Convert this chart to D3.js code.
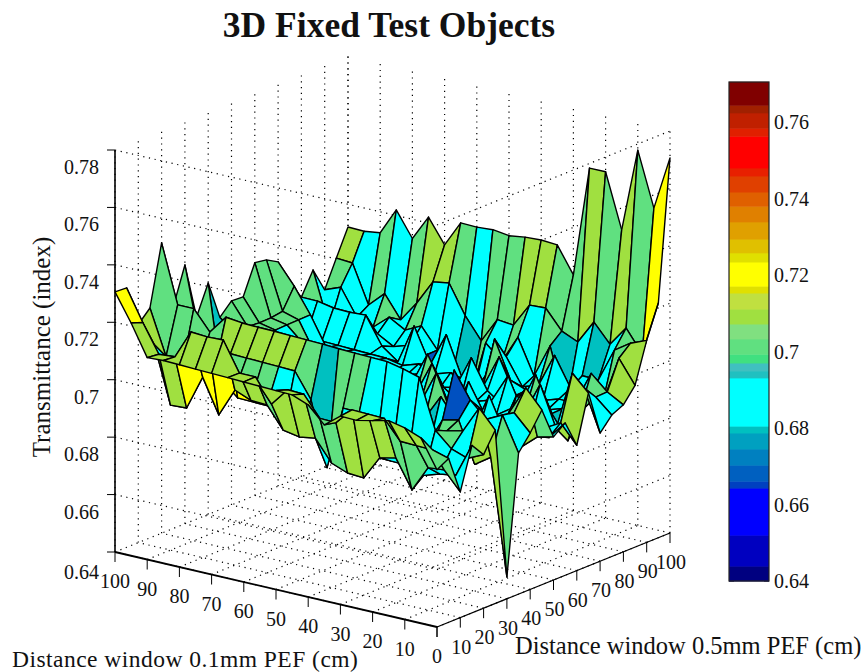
<!DOCTYPE html>
<html><head><meta charset="utf-8">
<script src="https://cdnjs.cloudflare.com/ajax/libs/d3/7.8.5/d3.min.js"></script>
<style>html,body{margin:0;background:#fff}svg{display:block}text{font-family:"Liberation Serif",serif;fill:#111}</style>
</head><body><svg id="c" width="866" height="672"></svg>
<script>
const title = "3D Fixed Test Objects";
const xLabel = "Distance window 0.1mm PEF (cm)";
const yLabel = "Distance window 0.5mm PEF (cm)";
const zLabel = "Transmittance (index)";
const axisTicks = [0,10,20,30,40,50,60,70,80,90,100];
const zTicks = [0.64,0.66,0.68,0.7,0.72,0.74,0.76,0.78];
const cbTicks = [0.64,0.66,0.68,0.7,0.72,0.74,0.76];
const gridI = d3.range(0,101,5);
const gridJ = d3.range(0,101,5);
// colour bands of the colour bar, low to high
const bandTops = [.6439,.6520,.6643,.6661,.6703,.6745,.6787,.6805,.6931,.6949,.6970,.6993,.7033,.7072,.7111,.7153,.7171,.7234,.7258,.7294,.7339,.7380,.7417,.7459,.7480,.7563,.7584,.7624,.7644,.7705];
const bandColors = ["#000080","#0000c0","#0000ff","#0040c0","#0060c0","#0080c0","#00a0c0","#00c0c0","#00ffff","#20c0c0","#40c0c0","#40e080","#60e080","#80e080","#a0e040","#c0e040","#e0e000","#ffff00","#e0e000","#e0c000","#e0a000","#e08000","#e06000","#e04000","#e82000","#ff0000","#e02000","#c02000","#a02000","#800000"];
// the surface shows only these few colours
const surfaceTops = [.672,.6806,.695,.7055,.7145];
const surfaceColors = ["#0050c0","#00c0c0","#00ffff","#60e080","#a0e040","#ffff00"];
// heights: row = 0.5mm index, entries = 0.1mm window 0,5,...,100
const z00=[.6978,.7075,.7095,.7105,.709,.7076,.7076,.703,.7085,.7105,.7105,.7105,.7105,.7105,.7105,.7105,.7105,.7105,.71,.7206,.73];
const z05=[.700,.7015,.7015,.7015,.708,.708,.708,.702,.702,.709,.709,.7025,.7105,.7103,.7204,.72,.7202,.71,.7094,.719,.7296];
const z10=[.6865,.6927,.692,.6827,.6924,.691,.6824,.6826,.6846,.6918,.6907,.6916,.6989,.699,.7011,.6909,.7026,.6903,.6898,.7094,.715];
const z15=[.701,.689,.688,.686,.688,.688,.688,.702,.702,.6797,.702,.7105,.7105,.7105,.7105,.7105,.703,.701,.701,.7035,.719];
const z20=[.696,.6932,.695,.70,.717,.7185,.7195,.7195,.7195,.7195,.7196,.7196,.7196,.7196,.7195,.7195,.72,.7133,.72,.7198,.74];
const z25=[.7028,.709,.6995,.698,.69,.688,.688,.69,.69,.69,.69,.69,.69,.69,.69,.69,.69,.695,.70,.7015,.7158];
const z30=[.6496,.69,.686,.70,.6985,.688,.70,.688,.69,.685,.688,.69,.688,.688,.69,.69,.69,.69,.695,.7015,.7287];
const z35=[.6912,.703,.70,.7052,.7142,.686,.688,.695,.688,.69,.686,.688,.69,.69,.69,.688,.69,.69,.70,.702,.7087];
const z40=[.6964,.702,.686,.70,.688,.695,.686,.688,.70,.686,.69,.688,.69,.69,.69,.69,.69,.69,.685,.6795,.7188];
const z45=[.7027,.7089,.699,.686,.688,.70,.69,.679,.688,.693,.685,.688,.69,.69,.69,.69,.69,.69,.70,.701,.705];
const z50=[.6915,.69,.685,.688,.70,.686,.688,.695,.686,.688,.695,.686,.688,.69,.69,.69,.69,.69,.70,.7015,.709];
const z55=[.6946,.688,.69,.70,.686,.69,.70,.686,.70,.688,.686,.69,.688,.69,.69,.69,.69,.69,.70,.701,.7086];
const z60=[.685,.6913,.688,.686,.692,.688,.686,.69,.688,.70,.688,.69,.695,.69,.69,.69,.69,.695,.70,.701,.7188];
const z65=[.7015,.7069,.686,.70,.688,.70,.69,.688,.686,.69,.70,.688,.686,.688,.69,.69,.69,.69,.70,.7015,.718];
const z70=[.6857,.70,.68,.688,.70,.688,.686,.69,.70,.688,.686,.69,.688,.686,.69,.69,.69,.69,.70,.7085,.7155];
const z75=[.6902,.695,.688,.688,.686,.69,.688,.70,.688,.686,.69,.688,.69,.688,.689,.689,.689,.689,.689,.689,.7063];
const z80=[.692,.695,.70,.688,.688,.686,.688,.69,.703,.679,.686,.70,.688,.70,.686,.69,.6993,.6988,.6988,.6997,.6996];
const z85=[.697,.705,.688,.686,.69,.70,.688,.686,.695,.689,.68,.6683,.6668,.688,.69,.688,.691,.684,.689,.689,.7073];
const z90=[.711,.7085,.7046,.6926,.6926,.68,.70,.688,.70,.69,.695,.6736,.6826,.688,.695,.692,.695,.69,.692,.701,.6986];
const z95=[.7223,.703,.7105,.7033,.7096,.7011,.7034,.710,.7095,.701,.7014,.6925,.6998,.7097,.7086,.6997,.6923,.70,.6945,.7077,.7079];
const z100=[.7713,.7522,.7710,.7416,.7604,.7602,.7213,.7303,.7305,.730,.729,.7296,.729,.729,.7198,.728,.719,.7275,.718,.717,.717];
const rows=[z00,z05,z10,z15,z20,z25,z30,z35,z40,z45,z50,z55,z60,z65,z70,z75,z80,z85,z90,z95,z100];
// facets whose colour reads differently from their lowest corner: [0.1mm step, 0.5mm step, colour value]
const facetOverrides=[[0,4,.709],[0,5,.709],[0,6,.701],[0,8,.709],[0,9,.701],[0,12,.709],[0,13,.701],[0,16,.709],[0,17,.709],[1,16,.709],[1,17,.701],[2,18,.688],[1,18,.701],[3,18,.679],[3,6,.668],[4,6,.688],[2,6,.688],[2,7,.688],[3,7,.688],[4,7,.688]];

const svg=d3.select("#c");
const ix=d3.scaleLinear([0,100],[0,-322]), jx=d3.scaleLinear([0,100],[0,233]);
const iy=d3.scaleLinear([0,100],[0,-75]), jy=d3.scaleLinear([0,100],[0,-94]);
const zy=d3.scaleLinear([0.64,0.78],[0,-402]);
const PX=(i,j)=>437+ix(i)+jx(j);
const PY=(i,j,z)=>627+iy(i)+jy(j)+zy(z);
const siy=d3.scaleLinear([0,100],[8,-78]), sjy=d3.scaleLinear([0,100],[0,-102]), szy=d3.scaleLinear([0.64,0.78],[0,-400]);
const SY=(i,j,z)=>627+siy(i)+sjy(j)+szy(z);
const cmap=d3.scaleThreshold().domain(surfaceTops).range(surfaceColors);

const grid=svg.append("g").attr("fill","none").attr("stroke","#000").attr("stroke-width",1.2).attr("stroke-dasharray","1.2 4.6");
const gl=(x1,y1,x2,y2)=>grid.append("line").attr("x1",x1).attr("y1",y1).attr("x2",x2).attr("y2",y2);
const zMin=zTicks[0], zMax=zTicks[zTicks.length-1];
axisTicks.forEach(t=>{
  gl(PX(t,0),PY(t,0,zMin),PX(t,100),PY(t,100,zMin));
  gl(PX(0,t),PY(0,t,zMin),PX(100,t),PY(100,t,zMin));
  gl(PX(100,t),PY(100,t,zMin),PX(100,t),PY(100,t,zMax));
  gl(PX(t,100),PY(t,100,zMin),PX(t,100),PY(t,100,zMax));
});
zTicks.slice(1).forEach(t=>{
  gl(PX(100,0),PY(100,0,t),PX(0,0),PY(0,0,t));
  gl(PX(0,0),PY(0,0,t),PX(0,100),PY(0,100,t));
});

const ov=new Map(facetOverrides.map(d=>[d[0]+","+d[1],d[2]]));
const surf=svg.append("g").attr("stroke","#000").attr("stroke-width",1.4).attr("stroke-linejoin","round");
for(let k=gridJ.length-2;k>=0;k--){
  for(let n=gridI.length-2;n>=0;n--){
    const c=[[n,k],[n+1,k],[n+1,k+1],[n,k+1]];
    const pts=c.map(([a,b])=>[PX(gridI[a],gridJ[b]),SY(gridI[a],gridJ[b],rows[b][a])]);
    const val=ov.has(n+","+k)?ov.get(n+","+k):rows[k][n];
    surf.append("path").attr("d",d3.line()(pts)+"Z").attr("fill",cmap(val));
  }
}

const ax=svg.append("g").attr("stroke","#000");
const al=(x1,y1,x2,y2,w)=>ax.append("line").attr("x1",x1).attr("y1",y1).attr("x2",x2).attr("y2",y2).attr("stroke-width",w);
al(PX(100,0),PY(100,0,zMin),PX(100,0),PY(100,0,zMax),1.6);
al(PX(100,0),PY(100,0,zMin),PX(0,0),PY(0,0,zMin),1.8);
al(PX(0,0),PY(0,0,zMin),PX(0,100),PY(0,100,zMin),1.3);
const lab=(x,y,s,anchor)=>svg.append("text").attr("x",x).attr("y",y).attr("text-anchor",anchor||"middle").attr("font-size",20).text(s);
axisTicks.forEach(t=>{
  al(PX(t,0),PY(t,0,zMin),PX(t,0),PY(t,0,zMin)+10,1);
  al(PX(0,t),PY(0,t,zMin),PX(0,t),PY(0,t,zMin)+10,1);
  lab(PX(t,0),PY(t,0,zMin)+36,String(t));
  if(t>0) lab(PX(0,t)+1,PY(0,t,zMin)+36,String(t));
});
zTicks.forEach(t=>{
  al(PX(100,0)-8,PY(100,0,t),PX(100,0),PY(100,0,t),1);
  lab(99,PY(100,0,t)+(t===zMin?27:24),d3.format("~g")(t),"end");
});

svg.append("text").attr("x",389).attr("y",37).attr("text-anchor","middle").attr("font-size",35.5).attr("font-weight","bold").text(title);
svg.append("text").attr("x",12).attr("y",667).attr("font-size",23.5).style("letter-spacing","0.47px").text(xLabel);
svg.append("text").attr("x",515).attr("y",654).attr("font-size",24.5).text(yLabel);
svg.append("text").attr("transform","translate(50,347) rotate(-90)").attr("text-anchor","middle").attr("font-size",25).text(zLabel);

const cby=d3.scaleLinear([0.64,0.76],[581,122]);
let lo=0.64;
bandTops.forEach((top,q)=>{
  svg.append("rect").attr("x",729).attr("width",40).attr("y",cby(top)).attr("height",cby(lo)-cby(top)+0.5).attr("fill",bandColors[q]);
  lo=top;
});
svg.append("rect").attr("x",729).attr("y",82).attr("width",40).attr("height",499).attr("fill","none").attr("stroke","#222").attr("stroke-width",1.2);
cbTicks.forEach(t=>{
  al(729,cby(t),734,cby(t),1); al(764,cby(t),769,cby(t),1);
  lab(774,cby(t)+7,d3.format("~g")(t),"start");
});
</script></body></html>
